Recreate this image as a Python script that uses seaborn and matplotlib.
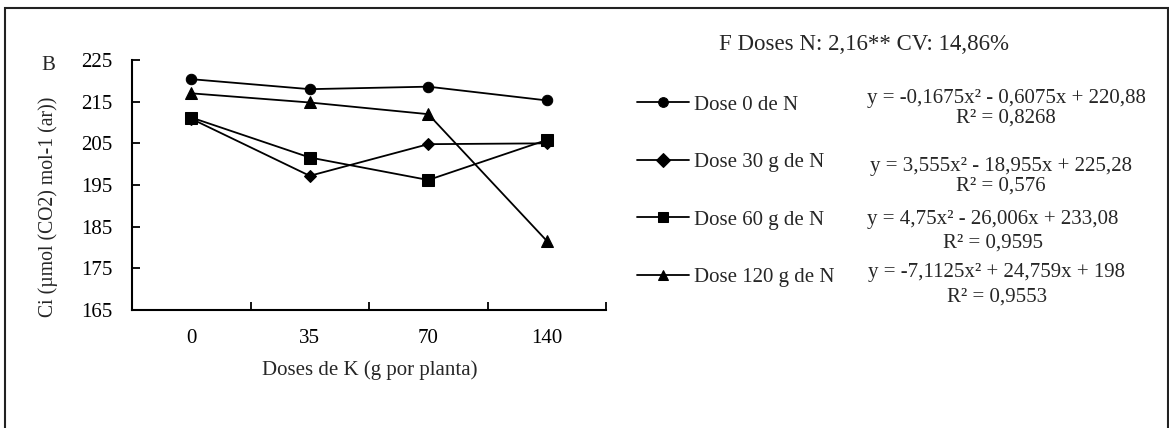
import matplotlib
matplotlib.use("Agg")
import matplotlib.pyplot as plt
import matplotlib.patches as mpatches
import seaborn as sns
import pandas as pd

# ---- data ----
k_doses = ["0", "35", "70", "140"]
series_names = ["Dose 0 de N", "Dose 30 g de N", "Dose 60 g de N", "Dose 120 g de N"]
dose0 = [220.4, 218.0, 218.6, 215.3]
dose30 = [210.9, 197.2, 204.8, 205.0]
dose60 = [211.2, 201.6, 196.2, 205.8]
dose120 = [217.0, 214.8, 212.0, 181.6]
equations = [
    "y = -0,1675x² - 0,6075x + 220,88",
    "y = 3,555x² - 18,955x + 225,28",
    "y = 4,75x² - 26,006x + 233,08",
    "y = -7,1125x² + 24,759x + 198",
]
r2_labels = ["R² = 0,8268", "R² = 0,576", "R² = 0,9595", "R² = 0,9553"]
y_ticks = [165, 175, 185, 195, 205, 215, 225]
title_text = "F Doses N: 2,16** CV: 14,86%"

rows = []
for name, vals in zip(series_names, [dose0, dose30, dose60, dose120]):
    for k, v in zip(k_doses, vals):
        rows.append({"K": k, "Ci": v, "Serie": name})
df = pd.DataFrame(rows)

sns.set_style("white")
plt.rcParams["font.family"] = ["Liberation Serif", "DejaVu Serif"]

W, H = 1169, 428
fig = plt.figure(figsize=(W / 100, H / 100), dpi=100)
ax = fig.add_axes([132 / W, 1 - 310 / H, (606 - 132) / W, 250 / H])

markers = {series_names[0]: "o", series_names[1]: "D",
           series_names[2]: "s", series_names[3]: "^"}
sizes = {series_names[0]: 7.5, series_names[1]: 6.0,
         series_names[2]: 8.0, series_names[3]: 8.5}

sns.lineplot(data=df, x="K", y="Ci", hue="Serie", style="Serie",
             palette=["black"] * 4, markers=markers, dashes=False,
             linewidth=1.3, markersize=8, markeredgecolor="black",
             sort=False, ax=ax, legend=True)

for line, name in zip(ax.get_lines(), series_names):
    line.set_markersize(sizes[name])
    line.set_clip_on(False)

ax.set_xlim(-0.5, 3.5)
ax.set_ylim(165, 225)
ax.set_yticks(y_ticks)
ax.set_yticklabels([str(t) for t in y_ticks])
ax.set_xticks([0, 1, 2, 3])
ax.set_xticklabels(k_doses)
# y: inward major ticks; x: labels at category centres, tick marks at boundaries
ax.tick_params(axis="y", which="major", left=True, direction="in", length=6,
               width=1.3, color="black", labelsize=15, pad=14, labelcolor="black")
ax.tick_params(axis="x", which="major", bottom=True, length=0, labelsize=15,
               pad=14, labelcolor="black")
ax.set_xticks([0.5, 1.5, 2.5, 3.5], minor=True)
ax.tick_params(axis="x", which="minor", bottom=True, direction="in", length=6,
               width=1.3, color="black")

for s in ["top", "right"]:
    ax.spines[s].set_visible(False)
for s in ["left", "bottom"]:
    ax.spines[s].set_color("black")
    ax.spines[s].set_linewidth(1.5)

ax.set_xlabel("Doses de K (g por planta)", fontsize=15)
ax.set_ylabel("Ci (µmol (CO2) mol-1 (ar))", fontsize=14.2)
ax.yaxis.set_label_coords(48 / W, 1 - 207 / H, transform=fig.transFigure)
ax.yaxis.label.set_va("center")
ax.xaxis.set_label_coords(370 / W, 1 - 370 / H, transform=fig.transFigure)
ax.xaxis.label.set_va("center")

fig.text(48 / W, 1 - 65 / H, "B", fontsize=15, ha="center", va="center")
fig.text(864 / W, 1 - 44 / H, title_text, fontsize=16.5, ha="center", va="center")

handles, labels = ax.get_legend_handles_labels()
for h in handles:
    h.set_markersize(7)
leg = ax.legend(handles, labels, loc="upper left",
                bbox_to_anchor=(637 / W, 1 - 95 / H), bbox_transform=fig.transFigure,
                frameon=False, fontsize=15, handlelength=2.5, handletextpad=0.25,
                labelspacing=1.82, borderpad=0, borderaxespad=0)

eq_x = [1006, 1001, 993, 997]
eq_y = [98, 167, 220, 273]
r2_y = [118, 186, 243, 297]
for ex, ey, ry, eq, r2 in zip(eq_x, eq_y, r2_y, equations, r2_labels):
    fig.text(ex / W, 1 - ey / H, eq, fontsize=15, ha="center", va="center")
    fig.text(ex / W, 1 - ry / H, r2, fontsize=15, ha="center", va="center")

border = mpatches.Rectangle((5 / W, -0.05), (1168 - 5) / W, 1 - 8 / H + 0.05,
                            transform=fig.transFigure, fill=False,
                            edgecolor="#222222", linewidth=1.5, clip_on=False)
fig.patches.append(border)

fig.savefig("out.png", dpi=100)
